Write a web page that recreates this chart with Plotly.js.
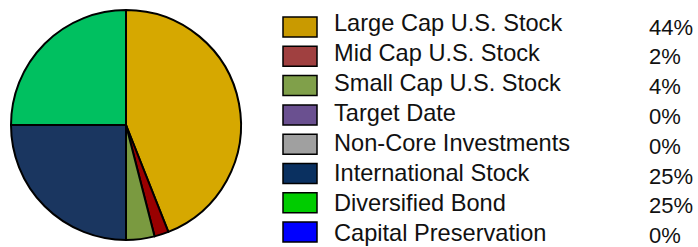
<!DOCTYPE html>
<html>
<head>
<meta charset="utf-8">
<script src="https://cdn.plot.ly/plotly-3.0.1.min.js"></script>
<style>html,body{margin:0;padding:0;background:#fff;}#chart{width:698px;height:247px;}</style>
</head>
<body>
<div id="chart"></div>
<script>
const categories = ["Large Cap U.S. Stock","Mid Cap U.S. Stock","Small Cap U.S. Stock","Target Date","Non-Core Investments","International Stock","Diversified Bond","Capital Preservation"];
const values = [44, 2, 4, 0, 0, 25, 25, 0];
const percentLabels = ["44%","2%","4%","0%","0%","25%","25%","0%"];
const sliceColors = ["#D6A800","#990000","#7A9A40","#6A5090","#A0A0A0","#1A3660","#00C060","#0000FF"];
const legendColors = ["#C99A00","#A04040","#80A04A","#6A5090","#A0A0A0","#0A3060","#00CC00","#0000FF"];

const W = 698, H = 247;
const px = x => x / W;
const py = y => 1 - y / H;

const shapes = [];
const annotations = [];
categories.forEach((c, i) => {
  const sc = 27 + i * 29.3;
  shapes.push({type:'rect', xref:'paper', yref:'paper',
    x0: px(283), x1: px(317), y0: py(sc - 10), y1: py(sc + 10),
    fillcolor: legendColors[i], line:{color:'#000', width:1.5}});
  annotations.push({xref:'paper', yref:'paper', x: px(333), y: py(23 + i * 30.0),
    xanchor:'left', yanchor:'middle', text: c, showarrow:false, borderpad:0,
    font:{family:'Liberation Sans, Arial, sans-serif', size:23.6, color:'#111'}});
  annotations.push({xref:'paper', yref:'paper', x: px(648), y: py(27 + i * 29.8),
    xanchor:'left', yanchor:'middle', text: percentLabels[i], showarrow:false, borderpad:0,
    font:{family:'Liberation Sans, Arial, sans-serif', size:22, color:'#111'}});
});

const data = [{
  type:'pie', labels: categories, values: values, sort:false, direction:'clockwise', rotation:0,
  marker:{colors: sliceColors, line:{color:'#000', width:2}},
  textinfo:'none', hoverinfo:'label+percent', showlegend:false,
  domain:{x:[px(11), px(241)], y:[py(240), py(10)]}
}];

Plotly.newPlot('chart', data, {
  width: W, height: H, margin:{l:0,r:0,t:0,b:0},
  paper_bgcolor:'#fff', plot_bgcolor:'#fff', showlegend:false,
  shapes: shapes, annotations: annotations
}, {displayModeBar:false, staticPlot:true});
</script>
</body>
</html>
